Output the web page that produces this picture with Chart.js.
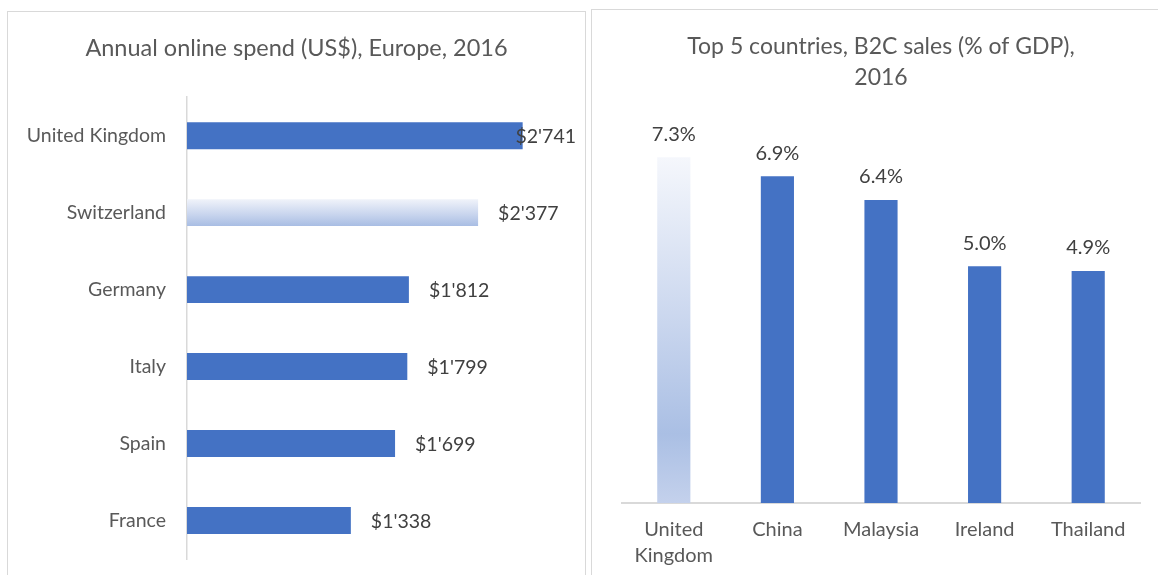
<!DOCTYPE html>
<html>
<head>
<meta charset="utf-8">
<script src="https://cdn.jsdelivr.net/npm/chart.js@4"></script>
<style>
  html, body { margin: 0; padding: 0; background: #fff; }
  body { width: 1158px; height: 575px; position: relative; overflow: hidden; }
  .box { position: absolute; border: 1px solid #d9d9d9; background: #fff; }
  #leftBox { left: 7px; top: 11px; width: 577px; height: 580px; }
  #rightBox { left: 591px; top: 9px; width: 580px; height: 580px; }
  canvas { position: absolute; left: 0; top: 0; }
</style>
</head>
<body>
<div class="box" id="leftBox"><canvas id="spend" width="577" height="563"></canvas></div>
<div class="box" id="rightBox"><canvas id="b2c" width="566" height="565"></canvas></div>
<script>
const europeCountries = ['United Kingdom', 'Switzerland', 'Germany', 'Italy', 'Spain', 'France'];
const europeSpend = [2741, 2377, 1812, 1799, 1699, 1338];

const b2cCountries = [['United', 'Kingdom'], 'China', 'Malaysia', 'Ireland', 'Thailand'];
const b2cShare = [7.3, 6.9, 6.4, 5.0, 4.9];

const BLUE = '#4472c4';
const FONT = 'Lato, "Open Sans", sans-serif';

Chart.defaults.font.family = FONT;
Chart.defaults.color = '#595959';

const money = v => '$' + String(v).replace(/\B(?=(\d{3})+(?!\d))/g, "'");

// value labels next to / above bars
const valueLabels = {
  id: 'valueLabels',
  afterDatasetsDraw(chart, args, opts) {
    const ctx = chart.ctx;
    const meta = chart.getDatasetMeta(0);
    const data = chart.data.datasets[0].data;
    ctx.save();
    ctx.font = opts.size + 'px ' + FONT;
    ctx.fillStyle = '#404040';
    meta.data.forEach((bar, i) => {
      const txt = opts.format(data[i]);
      if (opts.horizontal) {
        const w = ctx.measureText(txt).width;
        let x = bar.x + 20;
        if (x + w > chart.width - 9) x = chart.width - 9 - w;
        ctx.textAlign = 'left';
        ctx.textBaseline = 'middle';
        ctx.fillText(txt, x, bar.y + 1);
      } else {
        ctx.textAlign = 'center';
        ctx.textBaseline = 'middle';
        ctx.fillText(txt, bar.x, bar.y - 23);
      }
    });
    ctx.restore();
  }
};

new Chart(document.getElementById('spend'), {
  type: 'bar',
  data: {
    labels: europeCountries,
    datasets: [{
      data: europeSpend,
      barPercentage: 0.35,
      categoryPercentage: 1,
      backgroundColor(c) {
        const chart = c.chart;
        if (c.dataIndex !== 1 || !chart.chartArea) return BLUE;
        const ys = chart.scales.y;
        const yc = ys.getPixelForValue(c.dataIndex);
        const half = ys.height / europeCountries.length * 0.35 / 2;
        const g = chart.ctx.createLinearGradient(0, yc - half, 0, yc + half);
        g.addColorStop(0, '#f0f3fa');
        g.addColorStop(0.6, '#c6d3ed');
        g.addColorStop(1, '#a8bde3');
        return g;
      }
    }]
  },
  options: {
    indexAxis: 'y',
    responsive: false,
    animation: false,
    layout: { padding: { top: 0, left: 0, right: 0, bottom: 16 } },
    plugins: {
      legend: { display: false },
      tooltip: { enabled: false },
      title: {
        display: true,
        text: 'Annual online spend (US$), Europe, 2016',
        color: '#595959',
        font: { size: 23.5, weight: 'normal', lineHeight: 1.2 },
        padding: { top: 22, bottom: 35 }
      },
      valueLabels: { horizontal: true, size: 19.5, format: money }
    },
    scales: {
      x: { display: false, min: 0, max: 3250 },
      y: {
        grid: { display: false, drawTicks: true, tickLength: 21 },
        border: { display: true, color: '#d9d9d9', width: 1.5 },
        ticks: { padding: 0, color: '#595959', font: { size: 19.5 } },
        afterFit(scale) { scale.width = 179; }
      }
    }
  },
  plugins: [valueLabels]
});

new Chart(document.getElementById('b2c'), {
  type: 'bar',
  data: {
    labels: b2cCountries,
    datasets: [{
      data: b2cShare,
      barPercentage: 0.32,
      categoryPercentage: 1,
      backgroundColor(c) {
        const chart = c.chart;
        if (c.dataIndex !== 0 || !chart.chartArea) return BLUE;
        const ys = chart.scales.y;
        const top = ys.getPixelForValue(b2cShare[c.dataIndex]);
        const bottom = ys.getPixelForValue(0);
        const g = chart.ctx.createLinearGradient(0, top, 0, bottom);
        g.addColorStop(0, '#f5f7fc');
        g.addColorStop(0.45, '#ccd8ef');
        g.addColorStop(0.8, '#aabfe4');
        g.addColorStop(1, '#c4d1ec');
        return g;
      }
    }]
  },
  options: {
    responsive: false,
    animation: false,
    layout: { padding: { left: 30, right: 18, top: 0, bottom: 0 } },
    plugins: {
      legend: { display: false },
      tooltip: { enabled: false },
      title: {
        display: true,
        text: ['Top 5 countries, B2C sales (% of GDP),', '2016'],
        color: '#595959',
        font: { size: 23, weight: 'normal', lineHeight: 1.35 },
        padding: { top: 21, bottom: 31 }
      },
      valueLabels: { horizontal: false, size: 20, format: v => v.toFixed(1) + '%' }
    },
    scales: {
      y: { display: false, min: 0, max: 8 },
      x: {
        grid: { display: false, drawTicks: false },
        border: { display: true, color: '#d9d9d9', width: 2 },
        ticks: { padding: 14, color: '#595959', font: { size: 20, lineHeight: 1.3 }, maxRotation: 0 },
        afterFit(scale) { scale.height = 72; }
      }
    }
  },
  plugins: [valueLabels]
});
</script>
</body>
</html>
